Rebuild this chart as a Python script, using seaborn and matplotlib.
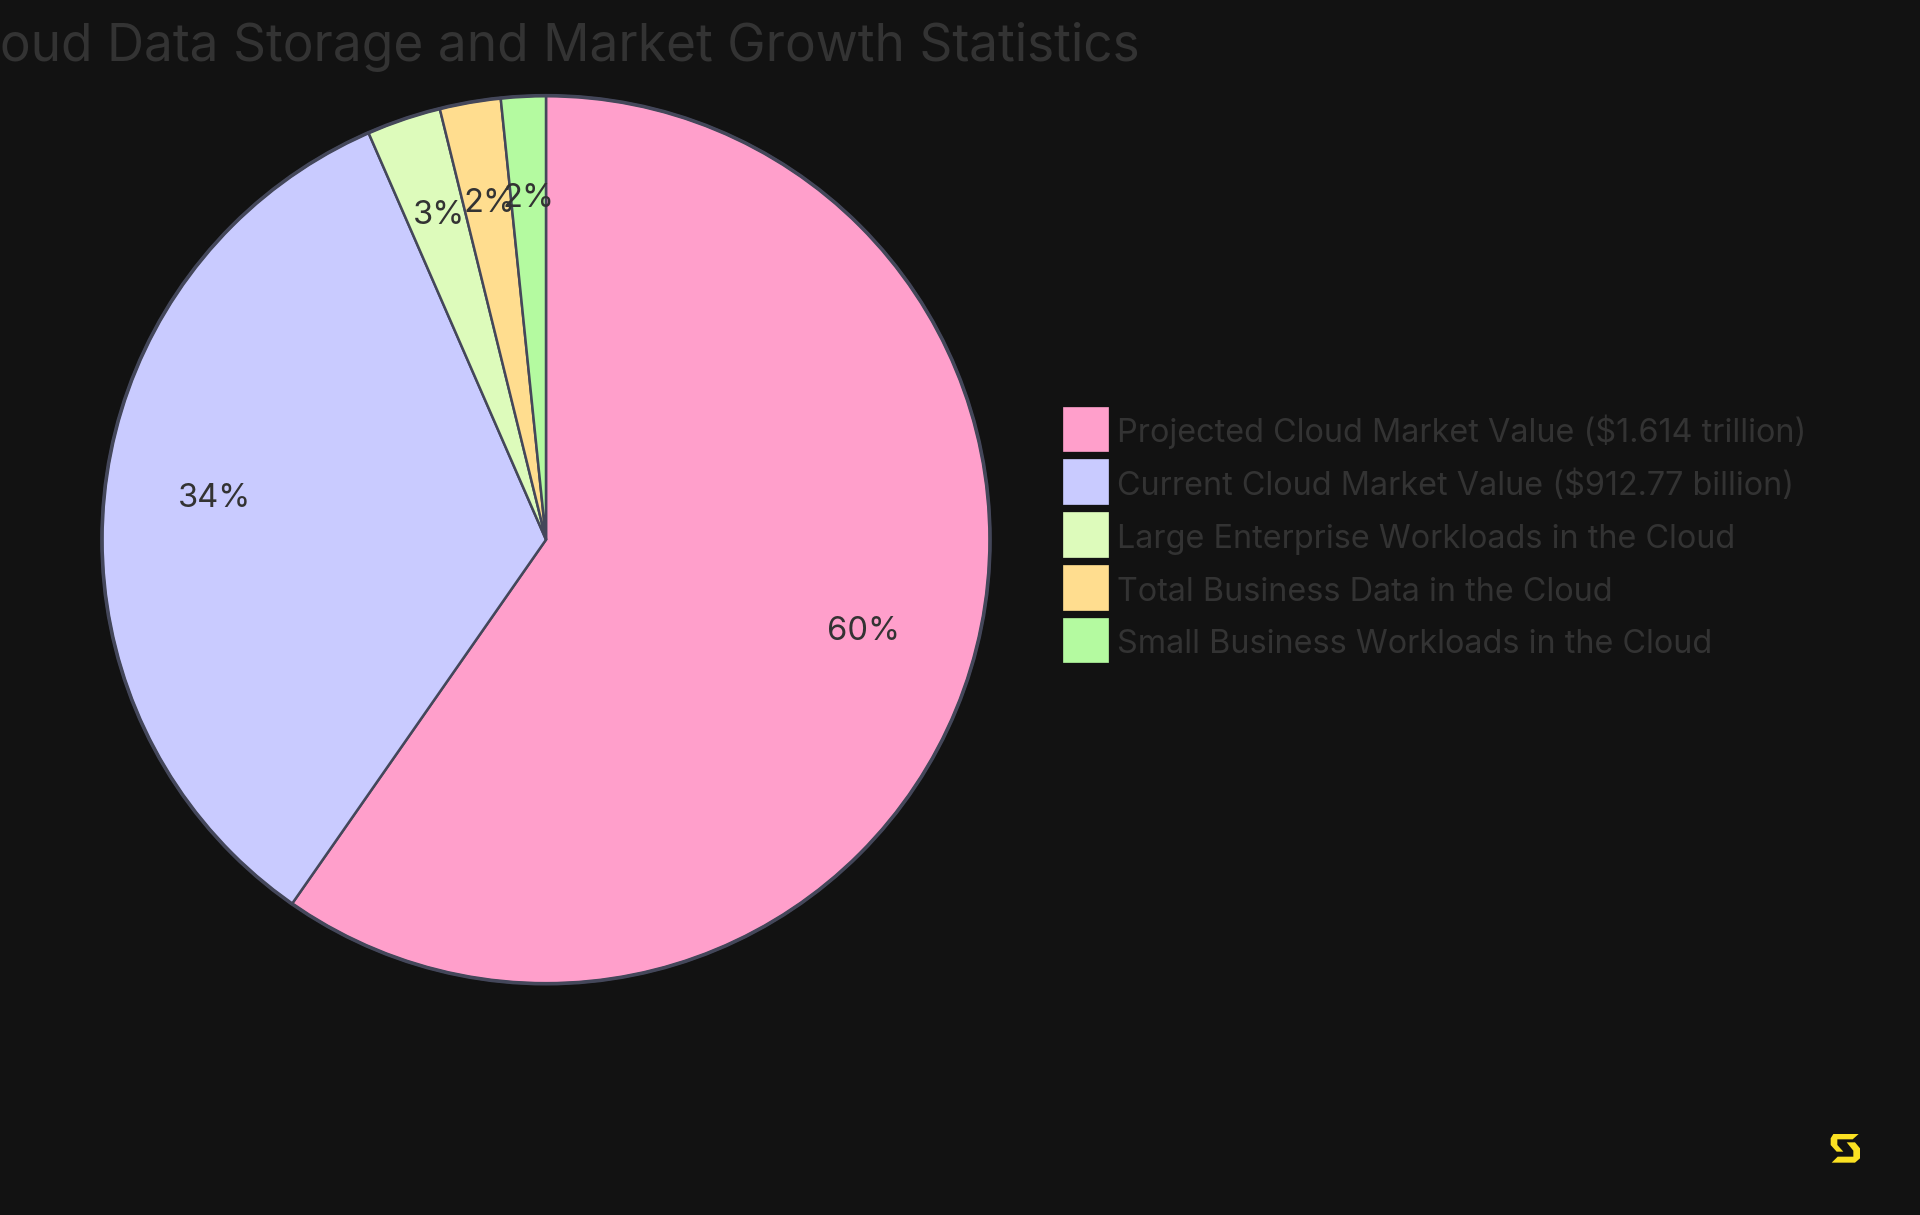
import matplotlib
matplotlib.use("Agg")
import matplotlib.pyplot as plt
import seaborn as sns
from matplotlib.patches import Patch, Circle, Polygon

categories = [
    "Projected Cloud Market Value ($1.614 trillion)",
    "Current Cloud Market Value ($912.77 billion)",
    "Large Enterprise Workloads in the Cloud",
    "Total Business Data in the Cloud",
    "Small Business Workloads in the Cloud",
]
values = [1614, 912.77, 73, 60, 44]
colors = ["#FF9FCB", "#C9CBFF", "#DDFBBB", "#FFDD8F", "#B4FAA0"]
title = "Cloud Data Storage and Market Growth Statistics"

BG = "#121212"
TXT = "#333333"
EDGE = "#44475A"
W, H = 1920, 1215

sns.set_theme(style="dark")
plt.rcParams["font.family"] = ["Inter", "DejaVu Sans"]
palette = sns.color_palette(colors)

fig = plt.figure(figsize=(W / 100, H / 100), dpi=100, facecolor=BG)
cx, cy, r = 546, 539.7, 444
pad = 1.05
ax = fig.add_axes([(cx - r * pad) / W, 1 - (cy + r * pad) / H, 2 * r * pad / W, 2 * r * pad / H])
ax.set_facecolor("none")
wedges, _, autotexts = ax.pie(
    values, colors=palette, startangle=90, counterclock=False, radius=1,
    autopct="%.0f%%", pctdistance=0.75,
    wedgeprops=dict(edgecolor=EDGE, linewidth=1.8),
    textprops=dict(color=TXT, fontsize=23.5),
)
for t in autotexts:
    t.set_va("baseline")
    t.set_ha("center")
ax.add_patch(Circle((0, 0), 1, fill=False, ec=EDGE, lw=2.6))
ax.set_xlim(-pad, pad)
ax.set_ylim(-pad, pad)
ax.set_aspect("equal")
ax.axis("off")

fig.text(1140 / W, 1 - 61 / H, title, ha="right", va="baseline", color=TXT, fontsize=37)

handles = [Patch(facecolor=c, edgecolor=c, linewidth=0.5) for c in colors]
fs = 23.3
fpx = fs * 100 / 72
leg = fig.legend(
    handles, categories, loc="upper left", bbox_to_anchor=(1063 / W, 1 - 406.5 / H),
    bbox_transform=fig.transFigure, frameon=False, fontsize=fs, labelcolor=TXT,
    handlelength=45 / fpx, handleheight=1.744, handletextpad=9 / fpx,
    labelspacing=0.253, borderpad=0, borderaxespad=0,
)
for t in leg.get_texts():
    t.set_y(-3)

def zoomed(points):
    return [((1800 + x / 3) / W, 1 - (1110 + y / 3) / H) for x, y in points]

logo_a = [(92, 85), (100, 72), (176, 72), (158, 88), (112, 88), (112, 105), (130, 125), (110, 125), (92, 105)]
logo_b = [(140, 97), (165, 97), (180, 115), (180, 145), (165, 158), (95, 158), (113, 140), (160, 140), (160, 122)]
for pts in (logo_a, logo_b):
    fig.add_artist(Polygon(zoomed(pts), closed=True, transform=fig.transFigure, fc="#FBE122", ec="none"))

fig.savefig("out.png", dpi=100, facecolor=BG)
